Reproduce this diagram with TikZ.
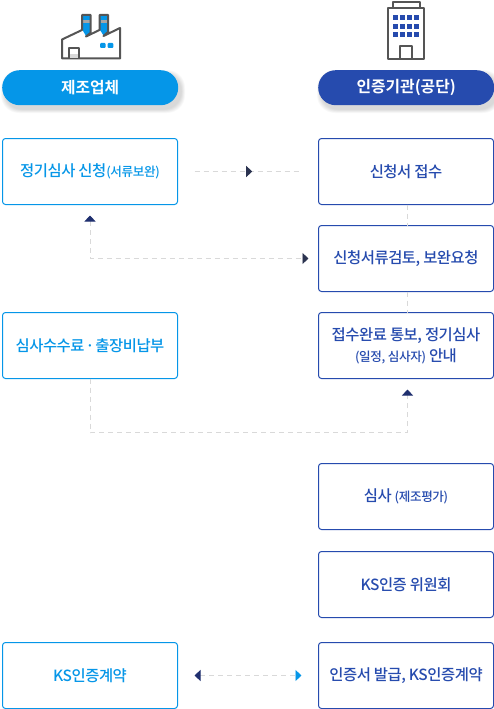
\documentclass[tikz,border=0pt]{standalone}
\usepackage{fontspec}
\setmainfont{Noto Sans CJK KR}[BoldFont={Noto Sans CJK KR Bold}]
\newfontfamily\medfont{Noto Sans CJK KR Medium}[LetterSpace=-3]
\usetikzlibrary{arrows.meta,positioning,calc,decorations.markings}
\definecolor{sky}{HTML}{0596E8}
\definecolor{navy}{HTML}{264BAE}
\definecolor{tipnavy}{HTML}{1F2F6F}
\definecolor{tipdark}{HTML}{2B3350}
\definecolor{dashgray}{HTML}{D9D9D9}
\definecolor{icongray}{HTML}{555555}
\newcommand{\smalltxt}{\fontsize{12.6}{21}\selectfont}
\tikzset{
  stepsky/.style={rounded corners=3pt, draw=sky, line width=1pt, fill=white, minimum width=175pt, minimum height=66pt, inner sep=0pt, outer sep=0pt, font=\medfont\fontsize{15.4}{21}\selectfont, text=sky, align=center},
  stepnavy/.style={stepsky, draw=navy, text=navy},
  pill/.style={rounded corners=17.5pt, draw=none, minimum width=176pt, minimum height=35pt, inner sep=0pt, font=\bfseries\fontsize{15.8}{18}\selectfont, text=white, align=center},
  flow/.style={draw=dashgray, line width=0.8pt, dash pattern=on 5pt off 4pt},
  tipup/.style={-{Triangle[length=6pt,width=11pt,color=tipnavy]}},
  iconline/.style={draw=icongray, line width=2pt, line join=round},
}
\begin{document}
\begin{tikzpicture}[x=1pt,y=-1pt,node distance=21pt and 141pt]
  \useasboundingbox (0,0) rectangle (494,709);
  % headers
  \foreach \i in {8,...,1}
    \fill[black,opacity=0.02,rounded corners=17.5pt] (5-\i/2,74-\i/2) rectangle (181+\i/2,109+\i/2);
  \foreach \i in {8,...,1}
    \fill[black,opacity=0.02,rounded corners=17.5pt] (321-\i/2,74-\i/2) rectangle (497+\i/2,109+\i/2);
  \node[pill,fill=sky,anchor=north west] (maker) at (2,70) {제조업체};
  \node[pill,fill=navy,anchor=north west] (agency) at (318,70) {인증기관(공단)};
  % left column
  \node[stepsky,anchor=north west] (apply) at (2.5,138.5) {정기심사 신청{\smalltxt(서류보완)}};
  \node[stepsky,anchor=north west] (fee) at (2.5,312.5) {심사수수료\kern1pt·\kern1pt출장비납부};
  \node[stepsky,anchor=north west] (contract) at (2.5,642.5) {KS인증계약};
  % right column
  \node[stepnavy,anchor=north west] (receive) at (318.5,138.5) {신청서 접수};
  \node[stepnavy,below=21pt of receive] (review) {신청서류검토, 보완요청};
  \node[stepnavy,below=21pt of review] (notice) {접수완료 통보, 정기심사\\{\smalltxt(일정, 심사자)} 안내};
  \node[stepnavy,anchor=north west] (audit) at (318.5,463.5) {심사 {\smalltxt(제조평가)}};
  \node[stepnavy,below=22pt of audit] (board) {KS인증 위원회};
  \node[stepnavy,anchor=north west] (issue) at (318.5,642.5) {인증서 발급, KS인증계약};
  % connectors
  \draw[flow,shorten <=17pt,shorten >=17pt,postaction={decorate},decoration={markings,mark=at position 0.53 with {\arrow{Triangle[length=6pt,width=11pt,color=tipdark]}}}] (apply.east)--(receive.west);
  \draw[flow] ([xshift=1.5pt]receive.south)--([xshift=1.5pt]review.north);
  \draw[flow] ([xshift=1.5pt]review.south)--([xshift=1.5pt]notice.north);
  \draw[flow,{Triangle[length=6pt,width=11pt,color=tipnavy]}-{Triangle[length=6pt,width=11pt,color=tipdark]},shorten <=11pt,shorten >=10pt] (apply.south)|-(review.west);
  \draw[flow,tipup,shorten >=11pt] (fee.south)--++(0,54)-|([xshift=1.5pt]notice.south);
  \draw[flow,{Triangle[length=6pt,width=11pt,color=tipnavy]}-{Triangle[length=6pt,width=11pt,color=sky]},shorten <=17pt,shorten >=17pt] (contract.east)--(issue.west);
  % factory icon
  \fill[sky] (82.5,16) -- (90,16) -- (90,33) -- (86,36) -- (82.5,30) -- cycle;
  \fill[sky] (100,16) -- (107.5,16) -- (107.5,32) -- (103.5,35.5) -- (100,30) -- cycle;
  \fill[gray!70] (83,20) rectangle (90,22.7);
  \fill[gray!70] (100.5,20) rectangle (107.5,22.7);
  \draw[iconline] (62,58.5)--(62,39.5)--(82,30)--(82,15)--(90.5,15)--(90.5,33)--(86,36.5)--(99.5,30)--(99.5,15)--(108,15)--(108,32)--(103.5,36)--(120,28)--(120,58.5)--cycle;
  \fill[gray!30] (69,54) rectangle (79,58);
  \draw[iconline] (68.7,58.5)--(68.7,48)--(79,48)--(79,58.5);
  \fill[sky,rounded corners=1pt] (100,43) rectangle (105.5,48);
  \fill[sky,rounded corners=1pt] (107.7,43) rectangle (113.3,48);
  % building icon
  \draw[iconline] (392.7,7)--(392.7,2)--(419.5,2)--(419.5,7);
  \draw[iconline] (387.7,8) rectangle (424,59);
  \foreach \r in {15,24,32.4}
    \foreach \c in {393.3,400.2,407.2,414}
      \fill[navy] (\c,\r) rectangle ++(4.9,4.9);
  \draw[iconline] (400,59)--(400,45.8)--(411.7,45.8)--(411.7,59);
\end{tikzpicture}
\end{document}
